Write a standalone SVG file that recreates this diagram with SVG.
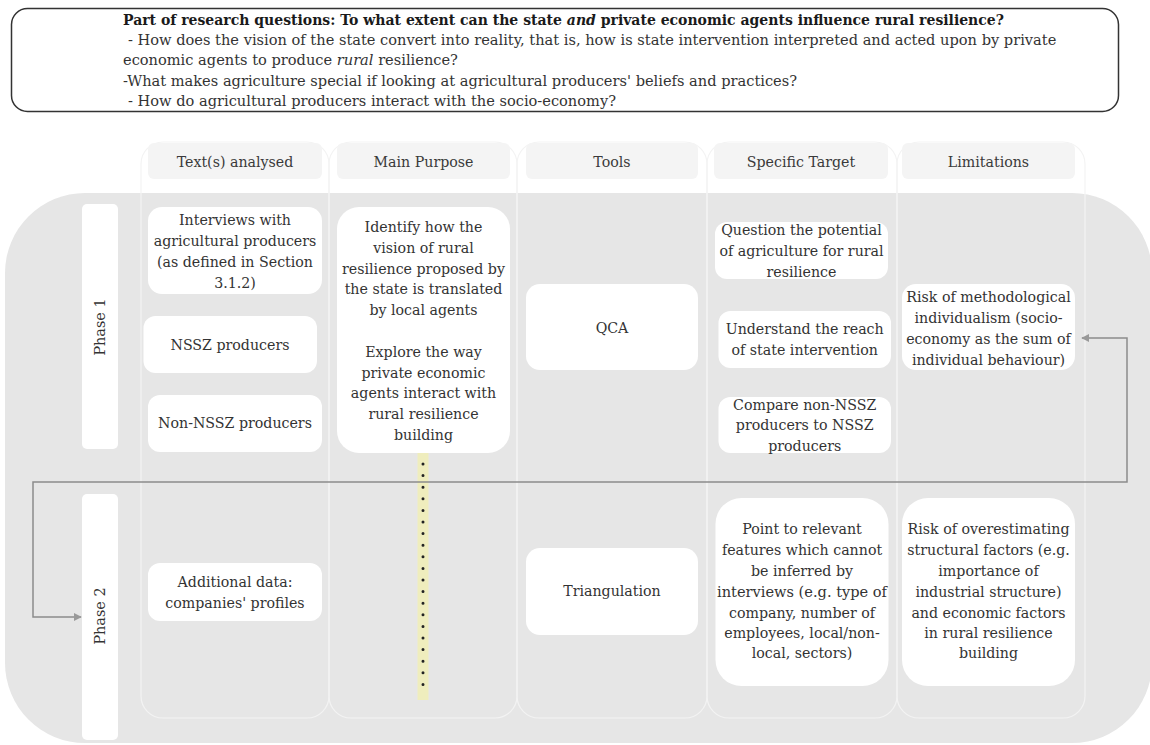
<svg xmlns="http://www.w3.org/2000/svg" width="1150" height="745" viewBox="0 0 1150 745">
<defs>
<style>
text{font-family:"DejaVu Serif","Liberation Serif",serif;fill:#333;}
.q{font-size:14.6px;}
.qt{font-size:14px;font-weight:bold;fill:#1a1a1a;}
.h{font-size:14.2px;text-anchor:middle;fill:#3a3a3a;}
.t{font-size:14.2px;text-anchor:middle;}
.ph{font-size:14.4px;text-anchor:middle;}
.lane{fill:none;stroke:#f3f3f3;stroke-width:1.2;}
.hd{fill:#f4f4f4;}
.nd{fill:#ffffff;}
.conn{fill:none;stroke:#8c8c8c;stroke-width:1.5;}
</style>
<marker id="ah" viewBox="0 0 10 10" refX="9" refY="5" markerWidth="8" markerHeight="8" markerUnits="userSpaceOnUse" orient="auto-start-reverse">
<path d="M0,0 L10,5 L0,10 z" fill="#999"/>
</marker>
</defs>
<rect width="1150" height="745" fill="#ffffff"/>

<g id="questions">
<rect x="11.5" y="8.5" width="1107" height="103" rx="16" fill="#fff" stroke="#333" stroke-width="1.5"/>
<text class="qt" x="123" y="25">Part of research questions: To what extent can the state <tspan font-style="italic">and</tspan> private economic agents influence rural resilience?</text>
<text class="q" x="128" y="45">- How does the vision of the state convert into reality, that is, how is state intervention interpreted and acted upon by private</text>
<text class="q" x="123" y="65">economic agents to produce  <tspan font-style="italic">rural</tspan> resilience?</text>
<text class="q" x="123" y="86">-What makes agriculture special if looking at agricultural producers' beliefs and practices?</text>
<text class="q" x="128" y="106">- How do agricultural producers interact with the socio-economy?</text>
</g>

<rect id="background" x="5" y="193" width="1147" height="550" rx="80" fill="#e6e6e6"/>

<g id="lanes">
<rect class="lane" x="141" y="142" width="188" height="576" rx="22"/>
<rect class="lane" x="329" y="142" width="188" height="576" rx="22"/>
<rect class="lane" x="517" y="142" width="190" height="576" rx="22"/>
<rect class="lane" x="707" y="142" width="190" height="576" rx="22"/>
<rect class="lane" x="897" y="142" width="188" height="576" rx="22"/>
</g>

<g id="headers">
<g id="h-texts"><rect class="hd" x="148" y="143" width="174" height="36" rx="6"/><text class="h" x="235" y="167">Text(s) analysed</text></g>
<g id="h-purpose"><rect class="hd" x="337" y="143" width="173" height="36" rx="6"/><text class="h" x="423.5" y="167">Main Purpose</text></g>
<g id="h-tools"><rect class="hd" x="526" y="143" width="172" height="36" rx="6"/><text class="h" x="612" y="167">Tools</text></g>
<g id="h-target"><rect class="hd" x="714" y="143" width="174" height="36" rx="6"/><text class="h" x="801" y="167">Specific Target</text></g>
<g id="h-limits"><rect class="hd" x="902" y="143" width="173" height="36" rx="6"/><text class="h" x="988.5" y="167">Limitations</text></g>
</g>

<g id="phase1"><rect class="nd" x="82" y="204" width="36" height="245" rx="5"/><text class="ph" transform="translate(105,327) rotate(-90)">Phase 1</text></g>
<g id="phase2"><rect class="nd" x="82" y="494" width="36" height="246" rx="5"/><text class="ph" transform="translate(105,616) rotate(-90)">Phase 2</text></g>

<g id="highlight">
<line x1="423" y1="452" x2="423" y2="700" stroke="#efedbd" stroke-width="11"/>
<line x1="423" y1="464" x2="423" y2="690" stroke="#222" stroke-width="3" stroke-linecap="round" stroke-dasharray="0 11.6"/>
</g>

<g id="n-interviews"><rect class="nd" x="148" y="207" width="174" height="87" rx="14"/>
<text class="t" x="235" y="225">Interviews with</text><text class="t" x="235" y="246">agricultural producers</text><text class="t" x="235" y="267">(as defined in Section</text><text class="t" x="235" y="288">3.1.2)</text></g>
<g id="n-nssz"><rect class="nd" x="143.5" y="316" width="173.5" height="57" rx="12"/><text class="t" x="230" y="350">NSSZ producers</text></g>
<g id="n-nonnssz"><rect class="nd" x="148" y="395" width="174" height="57" rx="12"/><text class="t" x="235" y="428">Non-NSSZ producers</text></g>

<g id="n-purpose"><rect class="nd" x="337" y="207" width="173" height="246" rx="22"/>
<text class="t" x="423.5" y="232">Identify how the</text><text class="t" x="423.5" y="253">vision of rural</text><text class="t" x="423.5" y="274">resilience proposed by</text><text class="t" x="423.5" y="294">the state is translated</text><text class="t" x="423.5" y="315">by local agents</text>
<text class="t" x="423.5" y="357">Explore the way</text><text class="t" x="423.5" y="378">private economic</text><text class="t" x="423.5" y="398">agents interact with</text><text class="t" x="423.5" y="419">rural resilience</text><text class="t" x="423.5" y="440">building</text></g>

<g id="n-qca"><rect class="nd" x="526" y="284" width="172" height="86" rx="14"/><text class="t" x="612" y="333">QCA</text></g>
<g id="n-triang"><rect class="nd" x="526" y="548" width="172" height="87" rx="14"/><text class="t" x="612" y="596">Triangulation</text></g>

<g id="n-question"><rect class="nd" x="715" y="222" width="173" height="57" rx="12"/>
<text class="t" x="801.5" y="235">Question the potential</text><text class="t" x="801.5" y="256">of agriculture for rural</text><text class="t" x="801.5" y="277">resilience</text></g>
<g id="n-understand"><rect class="nd" x="718.5" y="311" width="172.5" height="57" rx="12"/>
<text class="t" x="804.7" y="334">Understand the reach</text><text class="t" x="804.7" y="355">of state intervention</text></g>
<g id="n-compare"><rect class="nd" x="718.5" y="397" width="172.5" height="56" rx="12"/>
<text class="t" x="804.7" y="410">Compare non-NSSZ</text><text class="t" x="804.7" y="430">producers to NSSZ</text><text class="t" x="804.7" y="451">producers</text></g>
<g id="n-point"><rect class="nd" x="715.5" y="498" width="173" height="188" rx="26"/>
<text class="t" x="802" y="534">Point to relevant</text><text class="t" x="802" y="555">features which cannot</text><text class="t" x="802" y="576">be inferred by</text><text class="t" x="802" y="597" textLength="170" lengthAdjust="spacingAndGlyphs">interviews (e.g. type of</text><text class="t" x="802" y="618">company, number of</text><text class="t" x="802" y="638">employees, local/non-</text><text class="t" x="802" y="658">local, sectors)</text></g>

<g id="n-risk1"><rect class="nd" x="902" y="284" width="173" height="86" rx="14"/>
<text class="t" x="988.5" y="302">Risk of methodological</text><text class="t" x="988.5" y="323">individualism (socio-</text><text class="t" x="988.5" y="344">economy as the sum of</text><text class="t" x="988.5" y="365">individual behaviour)</text></g>
<g id="n-risk2"><rect class="nd" x="902" y="498" width="173" height="188" rx="26"/>
<text class="t" x="988.5" y="534">Risk of overestimating</text><text class="t" x="988.5" y="555">structural factors (e.g.</text><text class="t" x="988.5" y="576">importance of</text><text class="t" x="988.5" y="597">industrial structure)</text><text class="t" x="988.5" y="618">and economic factors</text><text class="t" x="988.5" y="638">in rural resilience</text><text class="t" x="988.5" y="658">building</text></g>

<g id="n-additional"><rect class="nd" x="148" y="563" width="174" height="58" rx="12"/>
<text class="t" x="235" y="587">Additional data:</text><text class="t" x="235" y="608">companies' profiles</text></g>

<g id="connectors">
<path class="conn" d="M1082,338 H1127 V482 H33 V617 H81" marker-start="url(#ah)" marker-end="url(#ah)"/>
</g>
</svg>
